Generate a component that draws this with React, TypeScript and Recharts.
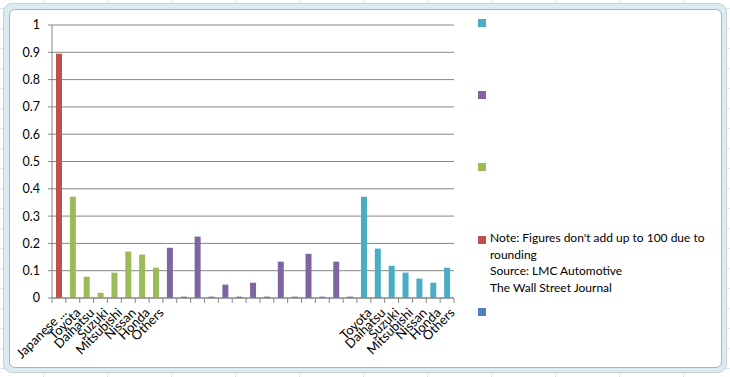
import { BarChart, Bar, XAxis, YAxis, CartesianGrid, Legend } from "recharts"

// Category labels (blank slots in the middle carry no label in the source)
const categories = [
  "Japanese ...", "Toyota", "Daihatsu", "Suzuki", "Mitsubishi", "Nissan", "Honda", "Others",
  "", "", "", "", "", "", "", "", "", "", "", "", "", "",
  "Toyota", "Daihatsu", "Suzuki", "Mitsubishi", "Nissan", "Honda", "Others",
]

// Values per series, each starting at the given category slot
const redValues = [0.895]
const greenValues = [0.371, 0.078, 0.019, 0.093, 0.17, 0.159, 0.111]
const purpleValues = [0.184, 0.005, 0.225, 0.005, 0.049, 0.005, 0.056, 0.005, 0.133, 0.005, 0.162, 0.005, 0.133, 0.005]
const cyanValues = [0.371, 0.181, 0.118, 0.093, 0.071, 0.056, 0.111]
const blueValues: number[] = []

const yTicks = [0, 0.1, 0.2, 0.3, 0.4, 0.5, 0.6, 0.7, 0.8, 0.9, 1]

const noteLines = [
  "Note: Figures don't add up to 100 due to",
  "rounding",
  "Source: LMC Automotive",
  "The Wall Street Journal",
]

// Legend order as drawn (top to bottom)
const series = [
  { key: "s1", color: "#4F81BD", values: blueValues, start: 0, label: [] as string[] },
  { key: "s2", color: "#C0504D", values: redValues, start: 0, label: noteLines },
  { key: "s3", color: "#9BBB59", values: greenValues, start: 1, label: [] as string[] },
  { key: "s4", color: "#8064A2", values: purpleValues, start: 8, label: [] as string[] },
  { key: "s5", color: "#4BACC6", values: cyanValues, start: 22, label: [] as string[] },
]

const data = categories.map((name, i) => {
  const row: Record<string, string | number | null> = { name }
  series.forEach((s) => {
    const j = i - s.start
    row[s.key] = j >= 0 && j < s.values.length ? s.values[j] : null
  })
  return row
})

const FONT = "Lato, 'Open Sans', sans-serif"
const AXIS = "#868686"
const PLOT_LEFT = 52
const PLOT_RIGHT = 454
const HALF = (PLOT_RIGHT - PLOT_LEFT) / categories.length / 2

function XTick(props: any) {
  const { x, y, payload, index } = props
  const tx = x + 2
  const ty = y + 9
  return (
    <g>
      <line x1={x - HALF} y1={y} x2={x - HALF} y2={y + 5} stroke={AXIS} />
      {index === categories.length - 1 && <line x1={x + HALF} y1={y} x2={x + HALF} y2={y + 5} stroke={AXIS} />}
      <text x={tx} y={ty} dy="0.71em" textAnchor="end" fontSize={13} fontFamily={FONT} fill="#000"
        transform={`rotate(-45, ${tx}, ${ty})`}>
        {payload.value}
      </text>
    </g>
  )
}

const legendTops = [308, 236, 163, 91, 19]

function renderLegend() {
  return (
    <div style={{ position: "relative", width: 250, height: 330, fontFamily: FONT, fontSize: 12, color: "#000" }}>
      {series.map((s, i) => (
        <div key={s.key} style={{ position: "absolute", left: 0, top: legendTops[i] - 4 }}>
          <div style={{ position: "absolute", left: 0, top: 4, width: 8, height: 8, background: s.color }} />
          <div style={{ position: "absolute", left: 12, top: -2, width: 235, lineHeight: "16.5px", whiteSpace: "nowrap" }}>
            {s.label.map((l, k) => <div key={k}>{l}</div>)}
          </div>
        </div>
      ))}
    </div>
  )
}

export default function App() {
  return (
    <div style={{
      position: "fixed", left: 0, top: 0, width: 730, height: 377, overflow: "hidden",
      background: "#fff",
      backgroundImage: "linear-gradient(90deg, #dae4ee 1px, transparent 1px), linear-gradient(#dae4ee 1px, transparent 1px)",
      backgroundSize: "64px 20px",
      backgroundPosition: "43px 8px",
    }}>
      <div style={{
        position: "absolute", left: 3, top: 3, width: 722, height: 368,
        border: "1px solid #c4d2d8", borderRadius: 9, background: "#dbebef",
      }} />
      <div style={{
        position: "absolute", left: 9, top: 9, width: 711, height: 357,
        border: "1px solid #a7b6bc", borderRadius: 6, background: "#fff",
      }} />
      <div style={{ position: "absolute", left: 0, top: 0 }}>
        <BarChart width={730} height={377} data={data} margin={{ top: 25, right: 276, bottom: 0, left: 12 }}>
          <CartesianGrid horizontal vertical={false} stroke={AXIS} />
          <XAxis dataKey="name" height={79} interval={0} tick={<XTick />} tickLine={false} tickSize={0} tickMargin={0}
            axisLine={{ stroke: AXIS }} />
          <YAxis width={40} domain={[0, 1]} ticks={yTicks} interval={0} tickSize={4} tickMargin={8}
            tick={{ fontSize: 12.5, fontFamily: FONT, fill: "#000" }} tickLine={{ stroke: AXIS }} axisLine={{ stroke: AXIS }} />
          {series.map((s) => (
            <Bar key={s.key} dataKey={s.key} stackId="a" fill={s.color} barSize={6} isAnimationActive={false} />
          ))}
          <Legend content={renderLegend} layout="horizontal" align="center" verticalAlign="middle"
            wrapperStyle={{ left: 478, top: 0, width: 250, height: 330 }} />
        </BarChart>
      </div>
    </div>
  )
}
